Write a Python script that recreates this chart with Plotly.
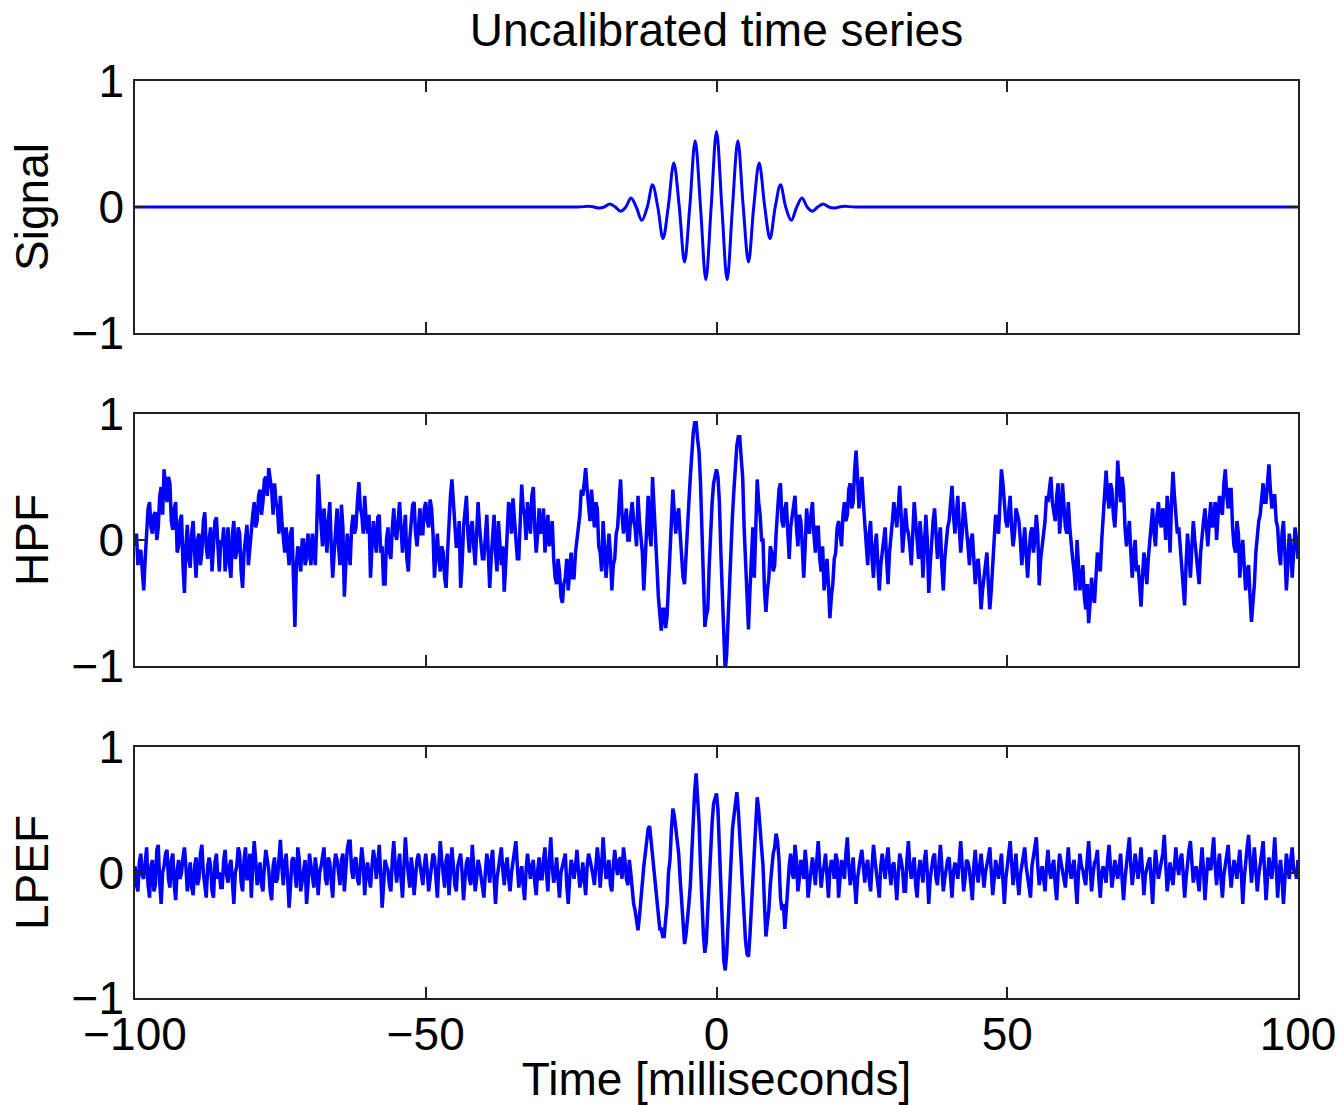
import plotly.graph_objects as go
from plotly.subplots import make_subplots

# ---------------- data ----------------
# Signal: extrema and zero crossings of the burst (ms, value)
sig_t = [-100, -30, -23.8, -22.0, -21.1, -20.2, -19.3, -18.35, -17.4, -16.5, -15.6,
         -14.7, -13.8, -12.85, -11.9, -11.0, -10.1, -9.2, -8.3, -7.34, -6.4, -5.5,
         -4.6, -3.67, -2.75, -1.83, -0.92, 0.0, 0.92, 1.83, 2.75, 3.67, 4.6, 5.5,
         6.4, 7.34, 8.3, 9.2, 10.1, 11.0, 11.9, 12.85, 13.8, 14.7, 15.6, 16.5, 17.4,
         18.35, 19.3, 20.2, 21.1, 22.0, 23.8, 30, 100]
sig_v = [0, 0, 0, 0.005, 0, -0.008, 0, 0.024, 0, -0.034, 0,
         0.071, 0, -0.106, 0, 0.177, 0, -0.251, 0, 0.349, 0, -0.437,
         0, 0.526, 0, -0.577, 0, 0.60, 0, -0.577, 0, 0.526, 0, -0.437,
         0, 0.349, 0, -0.251, 0, 0.177, 0, -0.106, 0, 0.071, 0, -0.034, 0,
         0.024, 0, -0.008, 0, 0.005, 0, 0, 0]

# HPF and LPEF traces, one value every 0.25 ms from -100 ms (20 values = 5 ms per row)
t_start = -100.0
t_step = 0.25

hpf = [
    -0.05, 0.05, -0.20, -0.10, -0.08, -0.30, -0.40, -0.15, 0.02, 0.25, 0.30, 0.10, 0.05, 0.20, 0.22, 0.00, 0.10, 0.35, 0.42, 0.20,
    0.56, 0.40, 0.30, 0.50, 0.45, 0.15, 0.08, 0.25, 0.30, -0.10, -0.05, 0.15, 0.20, -0.20, -0.42, -0.05, 0.12, -0.15, -0.22, 0.05,
    0.15, -0.10, -0.30, 0.00, 0.05, -0.20, -0.10, 0.15, 0.22, -0.05, -0.15, 0.00, 0.10, -0.25, -0.05, 0.15, 0.18, -0.10, -0.25, 0.00,
    -0.05, 0.10, -0.25, -0.10, 0.10, -0.20, -0.30, 0.05, 0.15, -0.15, -0.10, 0.10, 0.05, -0.25, -0.38, -0.10, 0.00, 0.12, -0.20, -0.05,
    0.05, 0.20, 0.30, 0.10, 0.15, 0.35, 0.40, 0.20, 0.30, 0.48, 0.50, 0.35, 0.57, 0.45, 0.40, 0.20, 0.45, 0.30, 0.25, 0.05,
    0.35, 0.15, 0.05, -0.10, 0.10, -0.05, -0.20, 0.05, 0.10, -0.30, -0.69, -0.20, -0.05, -0.15, -0.25, 0.00, 0.00, -0.20, -0.15, 0.05,
    -0.10, -0.20, 0.05, -0.05, -0.20, 0.10, 0.52, 0.30, 0.10, -0.05, 0.25, 0.05, -0.10, 0.15, 0.30, -0.05, -0.30, -0.10, 0.15, 0.25,
    -0.05, -0.20, 0.28, 0.10, -0.45, -0.15, 0.05, -0.10, -0.20, 0.10, 0.20, 0.05, 0.10, 0.30, 0.46, 0.25, 0.20, 0.05, 0.35, 0.15,
    0.05, 0.20, -0.30, -0.05, 0.15, 0.00, -0.10, 0.18, 0.20, -0.10, -0.05, -0.35, -0.35, 0.00, 0.10, -0.10, -0.15, 0.10, 0.25, 0.05,
    0.00, 0.15, 0.30, 0.10, -0.10, 0.05, 0.20, -0.15, -0.25, 0.00, 0.15, 0.28, 0.30, 0.05, -0.05, 0.15, 0.25, 0.05, 0.05, 0.25,
    0.30, 0.15, 0.10, 0.32, 0.25, 0.05, -0.30, -0.10, 0.05, -0.15, -0.25, -0.05, -0.10, -0.30, -0.38, -0.10, 0.15, 0.35, 0.48, 0.30,
    0.20, -0.05, -0.05, 0.15, -0.38, -0.20, 0.10, 0.25, 0.35, 0.05, -0.10, 0.10, 0.15, -0.05, -0.20, 0.05, 0.30, 0.10, 0.00, -0.15,
    -0.15, 0.05, 0.20, -0.10, -0.38, -0.15, 0.05, 0.20, -0.10, -0.25, 0.15, 0.00, -0.20, -0.05, -0.41, -0.20, 0.10, 0.30, 0.25, 0.05,
    0.33, 0.15, 0.00, -0.15, -0.15, 0.20, 0.44, 0.25, 0.20, 0.00, 0.30, 0.15, 0.05, 0.35, 0.42, 0.10, -0.10, 0.05, 0.25, 0.05,
    0.10, 0.25, -0.10, 0.05, 0.20, -0.05, 0.05, 0.15, -0.15, -0.30, -0.35, -0.15, -0.25, -0.45, -0.50, -0.35, -0.30, -0.15, -0.40, -0.25,
    -0.10, -0.30, -0.30, -0.10, 0.00, 0.15, 0.20, 0.40, 0.35, 0.45, 0.57, 0.40, 0.30, 0.15, 0.40, 0.20, 0.10, 0.30, 0.25, -0.05,
    -0.10, -0.25, 0.15, -0.05, -0.30, -0.15, 0.05, -0.10, -0.40, -0.20, -0.15, 0.05, 0.10, 0.30, 0.48, 0.20, 0.05, 0.15, 0.25, 0.00,
    0.00, 0.20, 0.30, 0.15, 0.10, -0.05, 0.35, 0.15, 0.05, -0.10, -0.40, -0.10, 0.20, 0.35, 0.05, -0.05, 0.50, 0.30, 0.00, -0.20,
    -0.45, -0.60, -0.72, -0.55, -0.55, -0.70, -0.60, -0.35, -0.10, 0.15, 0.40, 0.20, 0.05, 0.20, 0.25, 0.05, -0.10, -0.30, -0.35, -0.10,
    0.10, 0.30, 0.50, 0.70, 0.85, 0.93, 0.93, 0.80, 0.70, 0.45, 0.10, -0.30, -0.69, -0.60, -0.55, -0.20, 0.10, 0.30, 0.45, 0.50,
    0.56, 0.50, 0.30, -0.10, -0.50, -0.85, -1.05, -0.90, -0.60, -0.40, -0.10, 0.20, 0.40, 0.60, 0.75, 0.82, 0.82, 0.65, 0.50, 0.10,
    -0.20, -0.50, -0.71, -0.40, -0.10, 0.10, -0.30, 0.20, 0.48, 0.30, 0.20, 0.00, 0.00, -0.40, -0.57, -0.40, -0.30, -0.05, -0.10, -0.25,
    -0.20, 0.05, 0.20, 0.40, 0.45, 0.15, 0.10, 0.25, 0.30, 0.00, -0.15, 0.10, 0.20, 0.30, 0.35, 0.10, -0.05, 0.20, 0.15, -0.05,
    -0.30, -0.05, 0.25, 0.10, 0.05, 0.20, 0.30, 0.05, -0.10, 0.10, 0.10, -0.15, -0.25, -0.05, -0.40, -0.30, -0.15, -0.35, -0.62, -0.45,
    -0.35, -0.15, -0.10, 0.10, 0.15, 0.05, -0.05, 0.20, 0.30, 0.15, 0.20, 0.40, 0.45, 0.25, 0.30, 0.55, 0.71, 0.50, 0.25, 0.40,
    0.50, 0.30, 0.10, -0.05, -0.20, 0.05, 0.15, -0.15, -0.30, -0.05, 0.05, -0.20, -0.40, -0.20, -0.10, 0.05, 0.10, -0.15, -0.35, -0.10,
    0.00, 0.15, 0.30, 0.20, 0.10, 0.25, 0.43, 0.20, -0.10, 0.05, 0.25, 0.10, 0.05, -0.05, -0.20, 0.05, 0.30, 0.15, -0.05, -0.15,
    0.15, 0.00, -0.30, -0.05, 0.20, 0.00, -0.42, -0.20, 0.05, 0.15, 0.25, 0.05, -0.15, 0.00, 0.10, -0.20, -0.40, -0.15, 0.00, 0.10,
    0.15, 0.30, 0.43, 0.20, 0.05, 0.20, 0.35, 0.10, -0.10, 0.05, 0.30, 0.20, 0.10, -0.05, -0.20, 0.00, 0.05, -0.15, -0.35, -0.20,
    -0.15, -0.30, -0.55, -0.40, -0.30, -0.20, -0.10, -0.35, -0.55, -0.40, -0.20, 0.00, 0.20, 0.10, 0.05, 0.30, 0.56, 0.45, 0.30, 0.15,
    0.10, 0.25, 0.35, 0.10, -0.05, 0.05, 0.25, 0.20, 0.15, 0.00, -0.20, -0.05, 0.10, -0.10, -0.30, -0.10, 0.05, 0.10, -0.10, 0.00,
    0.20, 0.05, -0.36, -0.15, -0.05, 0.10, 0.15, 0.35, 0.30, 0.40, 0.50, 0.30, 0.20, 0.15, 0.35, 0.45, 0.05, 0.20, 0.45, 0.25,
    0.10, 0.05, 0.30, 0.10, -0.05, -0.15, -0.25, -0.40, 0.00, -0.20, -0.40, -0.30, -0.20, -0.45, -0.55, -0.35, -0.66, -0.50, -0.30, -0.45,
    -0.50, -0.30, -0.10, -0.20, -0.25, 0.00, 0.20, 0.40, 0.55, 0.35, 0.25, 0.45, 0.40, 0.20, 0.10, 0.30, 0.63, 0.45, 0.30, 0.50,
    0.40, 0.10, -0.05, 0.05, 0.15, -0.10, -0.30, -0.10, 0.00, -0.25, -0.20, -0.35, -0.53, -0.30, -0.10, -0.20, -0.35, -0.15, 0.00, 0.10,
    0.25, 0.05, -0.05, 0.20, 0.30, 0.15, 0.10, 0.25, 0.20, 0.00, 0.35, 0.20, -0.10, 0.30, 0.54, 0.35, 0.20, 0.05, 0.10, -0.05,
    -0.20, -0.35, -0.52, -0.20, 0.05, -0.10, -0.30, -0.05, 0.15, 0.00, -0.10, -0.25, -0.35, -0.10, 0.05, 0.15, 0.25, 0.05, -0.05, 0.15,
    0.30, 0.10, 0.15, 0.30, 0.00, 0.20, 0.35, 0.25, 0.20, 0.45, 0.56, 0.35, 0.25, 0.40, 0.40, 0.10, -0.05, -0.10, 0.15, 0.05,
    -0.30, -0.10, 0.00, -0.20, -0.40, -0.25, -0.20, -0.45, -0.65, -0.50, -0.35, -0.10, 0.05, 0.15, 0.20, 0.35, 0.45, 0.30, 0.30, 0.45,
    0.60, 0.40, 0.25, 0.35, 0.35, 0.15, 0.10, -0.10, -0.20, 0.05, 0.15, -0.10, -0.40, -0.20, 0.05, -0.05, -0.30, -0.10, 0.10, 0.00,
    -0.15,
]

lpef = [
    0.05, -0.10, -0.15, 0.08, 0.15, -0.02, -0.05, 0.12, 0.20, -0.10, -0.20, 0.05, 0.10, -0.15, -0.10, 0.18, 0.22, -0.08, -0.25, 0.00,
    0.05, 0.15, 0.18, -0.05, -0.12, 0.10, 0.15, -0.10, -0.22, 0.02, 0.10, -0.05, 0.00, 0.12, 0.20, 0.05, -0.15, -0.05, 0.08, -0.12,
    -0.18, 0.05, 0.12, -0.10, -0.05, 0.15, 0.22, 0.00, -0.10, -0.20, 0.05, 0.12, 0.05, -0.15, -0.20, 0.08, 0.15, -0.05, 0.00, -0.12,
    -0.12, 0.10, 0.18, -0.02, -0.08, 0.05, 0.10, -0.12, -0.25, 0.00, 0.05, 0.20, 0.15, -0.08, -0.15, 0.10, 0.20, -0.05, -0.05, 0.15,
    -0.20, 0.05, 0.25, 0.10, -0.10, -0.02, 0.08, -0.10, -0.15, 0.05, 0.18, 0.10, 0.02, -0.15, -0.22, 0.05, 0.12, -0.08, -0.05, 0.10,
    0.26, 0.05, -0.10, 0.08, 0.15, -0.05, -0.28, -0.10, 0.10, 0.12, 0.00, -0.12, 0.20, 0.10, -0.15, -0.05, 0.05, 0.10, -0.25, -0.10,
    0.15, 0.05, -0.05, -0.12, 0.12, 0.02, -0.18, 0.00, 0.05, 0.15, 0.20, -0.05, -0.10, 0.12, 0.08, -0.08, -0.20, 0.05, 0.15, 0.10,
    -0.02, -0.10, 0.10, 0.15, -0.15, 0.05, 0.18, 0.25, 0.25, 0.02, -0.05, 0.10, 0.12, -0.05, -0.10, 0.05, 0.20, 0.08, -0.18, 0.00,
    0.08, -0.05, -0.12, 0.05, 0.18, 0.10, -0.05, 0.05, 0.22, 0.00, -0.28, -0.10, 0.10, 0.05, 0.02, -0.10, -0.15, 0.10, 0.25, 0.05,
    -0.08, 0.05, 0.15, -0.05, -0.20, 0.05, 0.28, 0.10, -0.05, -0.12, 0.12, 0.02, -0.18, -0.05, 0.10, 0.15, 0.05, -0.02, -0.10, 0.05,
    0.15, 0.02, -0.15, -0.05, 0.05, 0.15, 0.12, -0.08, -0.20, 0.05, 0.25, 0.10, -0.05, -0.12, 0.10, 0.15, -0.18, -0.02, 0.20, 0.05,
    -0.10, -0.15, 0.05, 0.10, 0.15, 0.00, -0.22, -0.05, 0.08, 0.12, -0.05, -0.10, 0.22, 0.05, -0.15, -0.05, 0.10, 0.05, -0.02, -0.12,
    -0.20, 0.00, 0.15, 0.05, -0.08, 0.10, 0.18, -0.05, -0.25, -0.05, 0.05, 0.12, 0.20, 0.02, -0.10, 0.05, 0.12, -0.05, -0.15, 0.00,
    0.08, 0.15, 0.25, 0.05, -0.12, -0.02, 0.05, -0.10, -0.22, 0.02, 0.15, 0.05, -0.05, 0.05, 0.10, -0.08, -0.18, 0.02, 0.12, -0.05,
    -0.05, 0.10, 0.20, 0.00, -0.15, 0.10, 0.28, 0.05, -0.08, -0.02, 0.12, -0.05, -0.20, 0.00, 0.05, 0.10, 0.15, -0.10, -0.25, -0.05,
    0.10, 0.05, -0.05, 0.05, 0.18, 0.02, -0.12, -0.05, 0.08, -0.05, -0.18, 0.05, 0.15, 0.10, 0.05, -0.02, -0.10, 0.05, 0.20, 0.08,
    -0.12, 0.05, 0.28, 0.10, -0.05, 0.00, 0.10, -0.10, -0.15, 0.05, 0.18, 0.05, -0.02, 0.10, 0.12, -0.05, 0.20, 0.10, -0.05, -0.10,
    0.10, 0.00, -0.15, -0.25, -0.30, -0.40, -0.46, -0.35, -0.20, -0.05, 0.05, 0.15, 0.25, 0.35, 0.37, 0.25, 0.15, 0.00, -0.10, -0.25,
    -0.35, -0.45, -0.45, -0.51, -0.51, -0.40, -0.25, 0.00, 0.10, 0.35, 0.51, 0.45, 0.35, 0.25, 0.15, -0.05, -0.20, -0.40, -0.57, -0.50,
    -0.40, -0.25, -0.10, 0.15, 0.45, 0.65, 0.79, 0.60, 0.40, 0.05, -0.25, -0.50, -0.64, -0.55, -0.30, -0.05, 0.20, 0.40, 0.55, 0.60,
    0.63, 0.50, 0.20, -0.15, -0.45, -0.70, -0.78, -0.65, -0.40, -0.15, 0.10, 0.35, 0.45, 0.55, 0.64, 0.50, 0.30, 0.05, -0.20, -0.40,
    -0.55, -0.65, -0.67, -0.50, -0.30, -0.05, 0.15, 0.40, 0.60, 0.50, 0.35, 0.20, 0.05, -0.25, -0.51, -0.40, -0.30, -0.10, 0.05, 0.15,
    0.20, 0.31, 0.25, 0.10, -0.20, -0.30, -0.25, -0.45, -0.30, -0.10, 0.05, 0.15, 0.00, -0.05, 0.22, 0.10, -0.15, -0.05, 0.10, 0.05,
    -0.05, 0.18, 0.05, -0.20, -0.10, 0.05, 0.12, 0.02, -0.10, 0.10, 0.25, 0.05, -0.12, 0.00, 0.05, 0.15, -0.05, -0.20, 0.02, 0.10,
    0.05, -0.05, 0.15, 0.10, -0.20, -0.05, 0.10, 0.02, -0.05, 0.15, 0.28, 0.05, -0.10, 0.00, 0.12, -0.08, -0.25, -0.05, 0.05, 0.12,
    0.18, 0.02, -0.08, 0.05, 0.10, -0.05, -0.15, 0.05, 0.22, 0.10, 0.00, -0.12, -0.20, 0.05, 0.15, 0.05, -0.05, 0.10, 0.20, 0.02,
    -0.10, 0.05, 0.08, -0.05, -0.22, -0.02, 0.15, 0.10, 0.02, -0.15, -0.15, 0.10, 0.25, 0.05, -0.05, 0.05, 0.12, -0.10, -0.20, 0.00,
    0.10, 0.02, -0.08, 0.10, 0.18, 0.00, -0.25, -0.05, 0.05, 0.12, 0.15, -0.05, -0.10, 0.10, 0.22, 0.05, -0.15, -0.05, 0.05, 0.10,
    0.12, -0.05, -0.20, 0.00, 0.08, 0.02, -0.05, 0.10, 0.25, 0.05, -0.15, -0.05, 0.10, 0.08, 0.02, -0.10, -0.22, 0.05, 0.18, 0.00,
    -0.08, 0.05, 0.15, 0.02, -0.12, 0.00, 0.05, 0.12, 0.20, 0.00, -0.18, -0.05, 0.10, 0.02, -0.05, 0.05, 0.15, -0.05, -0.25, -0.05,
    0.08, 0.15, 0.25, 0.05, -0.10, 0.02, 0.15, -0.05, -0.18, -0.02, 0.05, 0.10, 0.20, 0.05, -0.05, -0.10, -0.20, 0.05, 0.12, 0.18,
    0.28, 0.05, -0.10, -0.02, 0.05, -0.05, -0.15, 0.05, 0.18, 0.02, -0.05, 0.05, 0.10, -0.10, -0.22, 0.00, 0.15, 0.08, 0.02, -0.05,
    -0.12, 0.05, 0.20, 0.02, -0.05, 0.05, 0.10, -0.08, -0.25, 0.00, 0.15, 0.05, 0.02, -0.05, -0.10, 0.10, 0.25, 0.05, -0.15, -0.02,
    0.08, 0.10, 0.18, -0.05, -0.20, 0.00, 0.05, -0.02, -0.08, 0.10, 0.22, 0.05, -0.12, -0.02, 0.10, 0.02, -0.05, 0.05, 0.15, -0.05,
    -0.22, -0.05, 0.08, 0.15, 0.28, 0.05, -0.10, 0.02, 0.15, 0.05, -0.05, 0.05, 0.20, 0.02, -0.18, -0.02, 0.05, 0.08, 0.12, -0.05,
    -0.25, 0.00, 0.18, 0.05, -0.05, 0.02, 0.10, 0.15, 0.30, 0.05, -0.15, -0.05, 0.08, -0.02, -0.10, 0.05, 0.20, 0.05, -0.02, 0.10,
    0.15, 0.00, -0.20, -0.05, 0.10, 0.18, 0.25, 0.05, -0.08, 0.00, 0.05, -0.05, -0.15, 0.05, 0.20, 0.02, -0.22, -0.05, 0.12, 0.05,
    0.02, 0.15, 0.28, 0.05, -0.10, 0.05, 0.15, -0.05, -0.20, -0.02, 0.05, 0.12, 0.22, 0.02, -0.12, 0.00, 0.10, 0.02, -0.05, 0.08,
    0.18, 0.00, -0.25, -0.05, 0.10, 0.20, 0.30, 0.05, -0.08, 0.05, 0.20, 0.02, -0.15, -0.02, 0.05, 0.15, 0.25, 0.00, -0.22, -0.05,
    0.12, 0.02, -0.05, 0.10, 0.28, 0.05, -0.20, 0.00, 0.10, -0.05, -0.25, -0.05, 0.15, 0.05, -0.05, 0.10, 0.20, 0.02, 0.02, -0.05,
    0.10,
]

panel_names = ["Signal", "HPF", "LPEF"]
x_ticks = [-100, -50, 0, 50, 100]
y_ticks = [-1, 0, 1]
title_text = "Uncalibrated time series"
x_title = "Time [milliseconds]"

# ---------------- figure ----------------
hpf_t = [t_start + i * t_step for i in range(len(hpf))]
lpef_t = [t_start + i * t_step for i in range(len(lpef))]

FONT = "Liberation Sans, Arial, Helvetica, sans-serif"
BLUE = "#0000FF"
LW = 3.5

fig = make_subplots(rows=3, cols=1, shared_xaxes=False, vertical_spacing=0.09)

fig.add_trace(go.Scatter(x=sig_t, y=sig_v, mode="lines", line=dict(color=BLUE, width=3.0, shape="spline", smoothing=1.0),
                         showlegend=False, hoverinfo="skip"), row=1, col=1)
fig.add_trace(go.Scatter(x=hpf_t, y=hpf, mode="lines", line=dict(color=BLUE, width=LW),
                         showlegend=False, hoverinfo="skip"), row=2, col=1)
fig.add_trace(go.Scatter(x=lpef_t, y=lpef, mode="lines", line=dict(color=BLUE, width=LW),
                         showlegend=False, hoverinfo="skip"), row=3, col=1)

domains = [[0.7252, 1.0], [0.3621, 0.6369], [0.0, 0.2737]]
for i in range(3):
    xa = "xaxis" if i == 0 else f"xaxis{i+1}"
    ya = "yaxis" if i == 0 else f"yaxis{i+1}"
    fig.layout[xa].update(
        range=[-100, 100], tickvals=x_ticks, ticks="inside", ticklen=11, tickwidth=1.5,
        tickcolor="#222", showline=True, linecolor="#222", linewidth=1.5, mirror="ticks",
        showgrid=False, zeroline=False, showticklabels=(i == 2), automargin=(i == 2),
        tickfont=dict(family=FONT, size=46, color="black"), ticklabelstandoff=-5,
    )
    fig.layout[ya].update(
        domain=domains[i], range=[-1, 1], tickvals=y_ticks, ticks="inside", ticklen=11, tickwidth=1.5,
        tickcolor="#222", showline=True, linecolor="#222", linewidth=1.5, mirror="ticks",
        showgrid=False, zeroline=False, automargin=True,
        tickfont=dict(family=FONT, size=46, color="black"), ticklabelstandoff=0,
        title=dict(text=panel_names[i], font=dict(family=FONT, size=46, color="black"), standoff=8),
    )

fig.layout.xaxis3.title = dict(text=x_title, font=dict(family=FONT, size=46, color="black"), standoff=6)

fig.update_layout(
    width=1342, height=1105,
    margin=dict(l=135, r=44, t=81, b=107, autoexpand=False),
    paper_bgcolor="white", plot_bgcolor="white",
    title=dict(text=title_text, x=0.5, xref="paper", y=1 - 30 / 1105, yref="container",
               xanchor="center", yanchor="middle", font=dict(family=FONT, size=46, color="black")),
    font=dict(family=FONT, size=46, color="black"),
)

fig.write_html("out.html")
